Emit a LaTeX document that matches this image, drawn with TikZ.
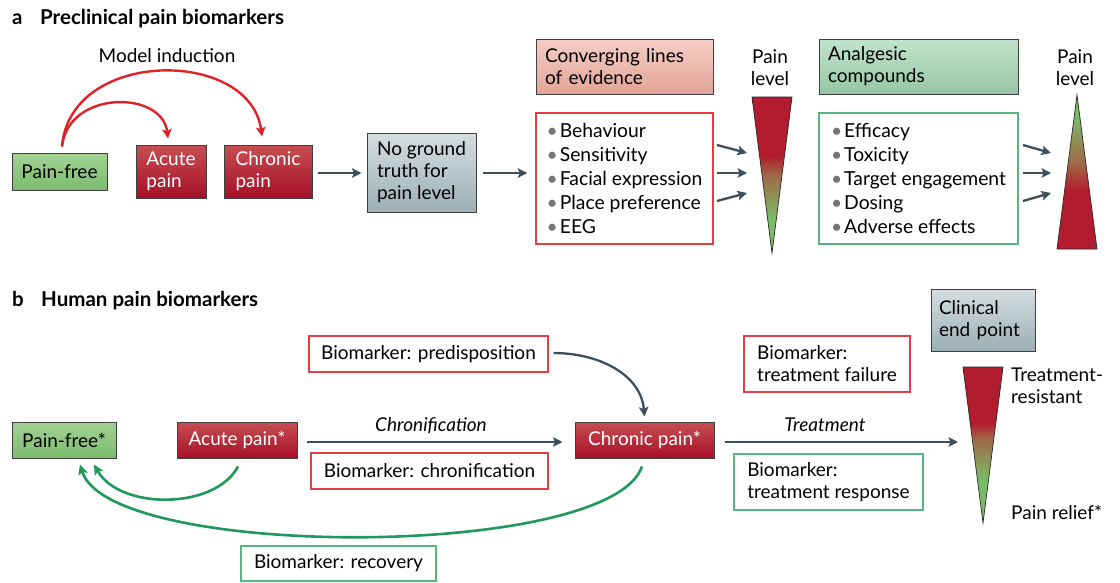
\documentclass[tikz,border=0pt]{standalone}
\usepackage{fontspec}
\setmainfont{Lato}
\usetikzlibrary{arrows.meta,calc}
\definecolor{rtop}{RGB}{198,78,82}
\definecolor{rbot}{RGB}{166,16,40}
\definecolor{gtop}{RGB}{162,210,148}
\definecolor{gbot}{RGB}{124,188,110}
\definecolor{btop}{RGB}{212,222,225}
\definecolor{bbot}{RGB}{156,175,181}
\definecolor{ptop}{RGB}{245,206,198}
\definecolor{pbot}{RGB}{226,164,150}
\definecolor{atop}{RGB}{194,227,204}
\definecolor{abot}{RGB}{150,198,165}
\definecolor{redline}{RGB}{228,62,68}
\definecolor{greenline}{RGB}{84,182,128}
\definecolor{arrowgray}{RGB}{61,79,92}
\definecolor{arrowred}{RGB}{222,35,40}
\definecolor{arrowgreen}{RGB}{30,152,92}
\definecolor{bulletgray}{RGB}{120,120,120}
\definecolor{pred}{RGB}{178,28,46}
\definecolor{pbrown}{RGB}{160,104,72}
\definecolor{pgreen}{RGB}{122,188,102}
\pgfdeclareverticalshading{tridownA}{100bp}{color(0bp)=(pgreen); color(36bp)=(pgreen); color(50bp)=(pbrown); color(56bp)=(pred); color(100bp)=(pred)}
\pgfdeclareverticalshading{triupA}{100bp}{color(0bp)=(pred); color(44bp)=(pred); color(53bp)=(pbrown); color(68bp)=(pgreen); color(100bp)=(pgreen)}
\pgfdeclareverticalshading{tridownB}{100bp}{color(0bp)=(pgreen); color(39bp)=(pgreen); color(52bp)=(pbrown); color(57bp)=(pred); color(100bp)=(pred)}
\newcommand\bul{{\color{bulletgray}\textbullet}\hspace{2pt}}
\begin{document}
\begin{tikzpicture}[x=1pt,y=-1pt,
  txt/.style={font=\fontsize{19}{22}\selectfont, inner sep=0pt},
  title/.style={font=\fontsize{20.5}{22}\selectfont\bfseries, inner sep=0pt},
  fillbox/.style={txt, draw=black!75, line width=1pt},
  redfill/.style={fillbox, top color=rtop, bottom color=rbot, text=white},
  greenfill/.style={fillbox, top color=gtop, bottom color=gbot},
  grayfill/.style={fillbox, top color=btop, bottom color=bbot},
  pinkfill/.style={fillbox, top color=ptop, bottom color=pbot},
  analfill/.style={fillbox, top color=atop, bottom color=abot},
  redbox/.style={txt, draw=redline, line width=1.3pt, fill=white},
  greenbox/.style={txt, draw=greenline, line width=1.3pt, fill=white},
  listtxt/.style={font=\fontsize{19.3}{24}\selectfont},
  padded/.style={inner xsep=9pt, text width=#1, align=left},
  conn/.style={draw=arrowgray, line width=2.3pt, -{Stealth[length=9.5pt,width=9.5pt,inset=2pt]}},
  rconn/.style={draw=arrowred, line width=2.4pt, -{Stealth[length=9.5pt,width=9.5pt,inset=2pt]}},
  gconn/.style={draw=arrowgreen, line width=2.6pt, -{Stealth[length=10pt,width=9.5pt,inset=2pt]}},
  tri/.style={draw=black!85, line width=0.7pt}
]
\useasboundingbox[fill=white] (0,0) rectangle (1120,582);

% ---------- Part a ----------
\node[title, anchor=base west] (ta) at (12,24) {\makebox[28pt][l]{a}Preclinical pain biomarkers};
\node[txt, anchor=base] (mi) at (167,62) {Model induction};
\node[greenfill, minimum width=95, minimum height=37] (pfA) at (59.5,171.5) {Pain-free};
\node[redfill, minimum width=70, minimum height=53, align=left] (acA) at (171,171.5) {Acute\\pain};
\node[redfill, minimum width=88, minimum height=53, align=left] (chA) at (268,171.5) {Chronic\\pain};
\node[grayfill, minimum width=109, minimum height=79, align=left] (ngt) at (421.5,172.5) {No ground\\truth for\\pain level};
\node[pinkfill, minimum height=55, padded=159] (conv) at (624.5,66.5) {Converging lines\\of evidence};
\node[redbox, listtxt, minimum width=177, minimum height=131, align=left] (listR) at (624.5,178.5)
  {\bul Behaviour\\\bul Sensitivity\\\bul Facial expression\\\bul Place preference\\\bul EEG};
\node[txt, align=center, anchor=north] (pl1) at (770,49) {Pain\\level};
\node[analfill, minimum height=55, padded=181] (anal) at (918.5,66.5) {Analgesic\\compounds};
\node[greenbox, listtxt, minimum width=199, minimum height=131, align=left] (listG) at (918.5,178.5)
  {\bul Efficacy\\\bul Toxicity\\\bul Target engagement\\\bul Dosing\\\bul Adverse effects};
\node[txt, align=center, anchor=north] (pl2) at (1075,49) {Pain\\level};

\shadedraw[shading=tridownA, tri] (752,97) -- (792,97) -- (772,253) -- cycle;
\shadedraw[shading=triupA, tri] (1077,95) -- (1097,249) -- (1057,249) -- cycle;

\coordinate (mistart) at ($(pfA.north)+(2.5,-6)$);
\coordinate (acTip) at ($(acA.north)+(-3,-6)$);
\coordinate (chTip) at ($(chA.north)+(-6,-8)$);
\draw[rconn] (mistart) .. controls (68,90) and (162,90) .. (acTip);
\draw[rconn] (mistart) .. controls (70,48) and (250,48) .. (chTip);
\draw[conn] ($(chA.east)+(5,1.5)$) -- ($(ngt.west)+(-5,0.5)$);
\draw[conn] ($(ngt.east)+(6,0.5)$) -- ($(listR.west)+(-8,-5.5)$);

\coordinate (r1s) at (717,145); \coordinate (r1e) at (747,153);
\coordinate (r2s) at (717,173); \coordinate (r2e) at (747,173);
\coordinate (r3s) at (717,201); \coordinate (r3e) at (747,193);
\draw[conn] (r1s) -- (r1e);
\draw[conn] (r2s) -- (r2e);
\draw[conn] (r3s) -- (r3e);
\coordinate (g1s) at (1023,145); \coordinate (g1e) at (1051,153);
\coordinate (g2s) at (1023,173); \coordinate (g2e) at (1051,173);
\coordinate (g3s) at (1023,201); \coordinate (g3e) at (1051,193);
\draw[conn] (g1s) -- (g1e);
\draw[conn] (g2s) -- (g2e);
\draw[conn] (g3s) -- (g3e);

% ---------- Part b ----------
\node[title, anchor=base west] (tb) at (12,306) {\makebox[29pt][l]{b}Human pain biomarkers};
\node[greenfill, minimum width=104, minimum height=36] (pfB) at (64,440) {Pain-free*};
\node[redfill, minimum width=120, minimum height=36] (acB) at (237,440) {Acute pain*};
\node[redfill, minimum width=139, minimum height=36] (chB) at (644.5,440) {Chronic pain*};
\node[redbox, minimum width=239, minimum height=36] (pred) at (428.5,354) {Biomarker: predisposition};
\node[redbox, minimum width=237, minimum height=36] (chrbm) at (429.5,471) {Biomarker: chronification};
\node[txt, anchor=base] (chrlab) at (431,431) {\itshape Chronification};
\node[redbox, minimum width=166, minimum height=56, align=left] (tfail) at (827,364) {Biomarker:\\treatment failure};
\node[txt, anchor=base] (trlab) at (825,431) {\itshape Treatment};
\node[greenbox, minimum width=189, minimum height=56, align=left] (tresp) at (828.5,482) {Biomarker:\\treatment response};
\node[grayfill, minimum height=62, inner xsep=8pt, text width=88, align=left] (clin) at (983,320) {Clinical\\end point};
\node[txt, align=left, anchor=north west] (tres) at (1011,368) {Treatment-\\resistant};
\node[txt, anchor=base west] (prel) at (1011,519) {Pain relief*};
\node[greenbox, minimum width=195, minimum height=35] (recov) at (338.5,563.5) {Biomarker: recovery};

\shadedraw[shading=tridownB, tri] (963,367) -- (1003,367) -- (983,523) -- cycle;

\coordinate (tEnd) at (958,442);
\draw[conn] ($(acB.east)+(9,2)$) -- ($(chB.west)+(-12,2)$);
\draw[conn] ($(pred.east)+(5,-1)$) to[out=0,in=95] ($(chB.north)+(0,-5)$);
\draw[conn] ($(chB.east)+(10,2)$) -- (tEnd);
\draw[gconn] ($(acB.south)+(1,8)$) .. controls (215,510) and (120,510) .. ($(pfB.south)+(30,6)$);
\draw[gconn] ($(chB.south)+(-2.5,8)$) .. controls (610,560) and (110,560) .. ($(pfB.south)+(16,6)$);
\end{tikzpicture}
\end{document}
